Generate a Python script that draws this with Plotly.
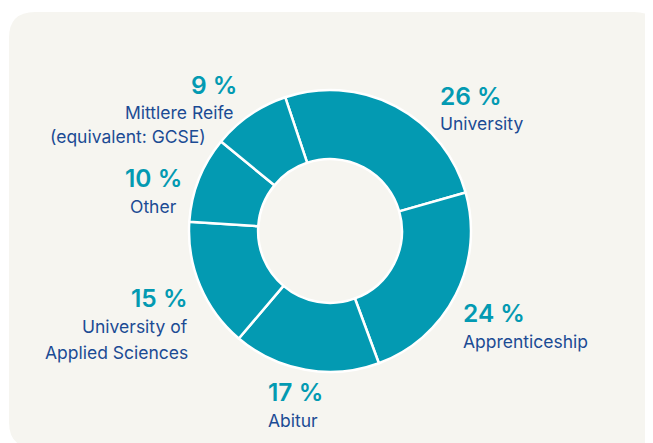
import plotly.graph_objects as go

categories = ["University", "Apprenticeship", "Abitur", "University of Applied Sciences", "Other", "Mittlere Reife (equivalent: GCSE)"]
values = [26, 24, 17, 15, 10, 9]
pct_labels = ["26 %", "24 %", "17 %", "15 %", "10 %", "9 %"]

# page body has an 8px default margin; compensate so reference pixel coords line up
OFF = 8
W, H = 653 - OFF, 443 - OFF
TEAL = "#039AB2"
NAVY = "#1B4B94"
CARD = "#F6F5F0"
FONT = "Inter"

def px(x):
    return (x - OFF) / W

def py(y):
    return 1 - (y - OFF) / H

cx, cy, r = 330, 231, 141

fig = go.Figure(go.Pie(
    labels=categories,
    values=values,
    hole=0.51,
    sort=False,
    direction="clockwise",
    rotation=-18.5,
    marker=dict(colors=[TEAL] * len(values), line=dict(color="white", width=2.5)),
    textinfo="none",
    hoverinfo="label+value",
    showlegend=False,
    domain=dict(x=[px(cx - r), px(cx + r)], y=[py(cy + r), py(cy - r)]),
))

# card background (rounded rectangle)
x0, y0, x1, y1, rr = 9, 12, 660, 448, 26
path = (f"M {px(x0 + rr)},{py(y0)} L {px(x1 - rr)},{py(y0)} "
        f"Q {px(x1)},{py(y0)} {px(x1)},{py(y0 + rr)} "
        f"L {px(x1)},{py(y1 - rr)} Q {px(x1)},{py(y1)} {px(x1 - rr)},{py(y1)} "
        f"L {px(x0 + rr)},{py(y1)} Q {px(x0)},{py(y1)} {px(x0)},{py(y1 - rr)} "
        f"L {px(x0)},{py(y0 + rr)} Q {px(x0)},{py(y0)} {px(x0 + rr)},{py(y0)} Z")
fig.add_shape(type="path", path=path, xref="paper", yref="paper",
              fillcolor=CARD, line=dict(width=0), layer="below")

# label layout: (pct index, text lines, x, y of pct, anchor)
label_specs = [
    (0, ["University"], 438, 96, "left"),
    (1, ["Apprenticeship"], 461, 313, "left"),
    (2, ["Abitur"], 266, 392, "left"),
    (3, ["University of", "Applied Sciences"], 190, 298, "right"),
    (4, ["Other"], 153, 178, "center"),
]

def ann(text, x, y, anchor, color, size, weight):
    fig.add_annotation(text=text, x=px(x), y=py(y), xref="paper", yref="paper",
                       xanchor=anchor, yanchor="middle", showarrow=False,
                       font=dict(family=FONT, size=size, color=color, weight=weight))

PCT_SIZE, LBL_SIZE = 24.5, 17.5
for i, lines, x, y, anchor in label_specs:
    ann(pct_labels[i], x, y, anchor, TEAL, PCT_SIZE, 600)
    for k, line in enumerate(lines):
        ann(line, x, y + 28 + 26 * k, anchor, NAVY, LBL_SIZE, 400)

# Mittlere Reife label
ann(pct_labels[5], 239, 85, "right", TEAL, PCT_SIZE, 600)
ann("Mittlere Reife", 236, 112, "right", NAVY, LBL_SIZE, 400)
ann("(equivalent: GCSE)", 128, 136, "center", NAVY, LBL_SIZE, 400)

fig.update_layout(
    width=W, height=H,
    margin=dict(l=0, r=0, t=0, b=0),
    paper_bgcolor="white",
    plot_bgcolor="white",
)

fig.write_html("out.html")
